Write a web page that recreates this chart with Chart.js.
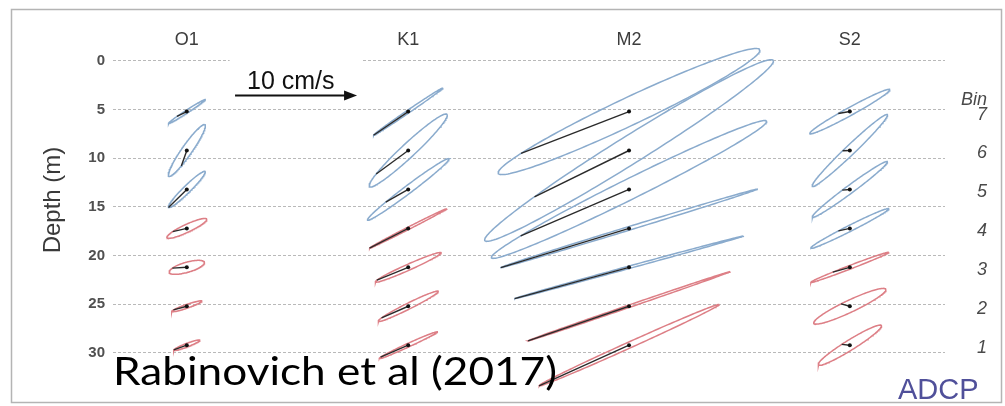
<!DOCTYPE html>
<html>
<head>
<meta charset="utf-8">
<script src="https://cdn.jsdelivr.net/npm/chart.js@4.4.1/dist/chart.umd.min.js"></script>
<style>
  html, body { margin: 0; padding: 0; background: #fff; }
  #wrap { width: 1005px; height: 406px; }
</style>
</head>
<body>
<div id="wrap"><canvas id="c" width="1005" height="406"></canvas></div>
<script>
// Tidal constituents and where each column of ellipses is centred (cm/s along x)
const constituents = ['O1', 'K1', 'M2', 'S2'];
const columnCenters = [6.15, 24.6, 43.0, 61.4];

// ADCP bins and their depths (m)
const bins = [7, 6, 5, 4, 3, 2, 1];
const binDepths = [5.2, 9.2, 13.2, 17.2, 21.2, 25.2, 29.2];
const depthTicks = [0, 5, 10, 15, 20, 25, 30];

// Ellipse parameters per bin (top to bottom):
// semi-major (cm/s), semi-minor (cm/s, negative = clockwise), inclination (deg), phase (deg)
const O1_major = [1.83, 2.63, 2.14, 1.83, 1.53, 1.33, 1.17];
const O1_minor = [0.12, 0.42, 0.30, -0.33, -0.42, -0.15, -0.15];
const O1_incl  = [33, 55, 44.5, 25, 16, 19, 21];
const O1_phase = [120, 240, 180, 130, 140, 150, 170];

const K1_major = [3.5, 4.42, 4.25, 3.62, 3.0, 2.79, 2.67];
const K1_minor = [0.12, 0.58, 0.33, -0.10, -0.25, -0.25, -0.15];
const K1_incl  = [34.3, 43, 37, 27, 24, 26.5, 24.6];
const K1_phase = [180, 138, 120, 180, 160, 150, 160];

const M2_major = [12.05, 14.17, 12.8, 11.17, 9.88, 8.9, 8.23];
const M2_minor = [1.15, 1.15, 0.85, 0.15, 0.10, -0.10, -0.25];
const M2_incl  = [25.3, 32, 26.4, 17, 15.3, 18.9, 24.3];
const M2_phase = [143, 128, 140, 180, 180, 180, 180];

const S2_major = [3.8, 4.33, 3.89, 3.64, 3.48, 3.32, 3.1];
const S2_minor = [0.33, 0.40, 0.33, 0.25, -0.15, -0.50, -0.42];
const S2_incl  = [28.8, 43.7, 36.5, 26.8, 21, 25.3, 31.9];
const S2_phase = [104, 96, 98, 105, 115, 100, 100];

// Velocity scale bar (cm/s) and its depth position
const scaleBarStart = 10.17;
const scaleBarLength = 10;
const scaleBarDepth = 3.55;

const ellipseTable = {
  O1: [O1_major, O1_minor, O1_incl, O1_phase],
  K1: [K1_major, K1_minor, K1_incl, K1_phase],
  M2: [M2_major, M2_minor, M2_incl, M2_phase],
  S2: [S2_major, S2_minor, S2_incl, S2_phase]
};

const CCW_COLOR = '#8aabcd';
const CW_COLOR = '#dd7f86';
const FONT = "'Liberation Sans', Arial, Helvetica, sans-serif";

// Frame around the figure
const framePlugin = {
  id: 'frame',
  beforeDraw(chart) {
    const ctx = chart.ctx;
    ctx.save();
    ctx.fillStyle = '#fff';
    ctx.fillRect(0, 0, chart.width, chart.height);
    ctx.strokeStyle = '#b4b4b4';
    ctx.lineWidth = 1.5;
    ctx.strokeRect(11.5, 9.5, 990, 393);
    ctx.restore();
  }
};

// Blank the surface grid line behind the scale bar label
const scaleBoxPlugin = {
  id: 'scaleBox',
  beforeDatasetsDraw(chart) {
    const x = chart.scales.x, y = chart.scales.y, ctx = chart.ctx;
    const x0 = x.getPixelForValue(scaleBarStart - 0.45);
    const x1 = x.getPixelForValue(scaleBarStart + scaleBarLength + 0.6);
    const y0 = y.getPixelForValue(0);
    ctx.save();
    ctx.fillStyle = '#fff';
    ctx.fillRect(x0, y0 - 4, x1 - x0, 8);
    ctx.restore();
  }
};

// Titles, scale bar label, bin numbers and annotations
const annotationPlugin = {
  id: 'annotations',
  afterDraw(chart) {
    const x = chart.scales.x, y = chart.scales.y, ctx = chart.ctx;
    ctx.save();

    // constituent titles
    ctx.fillStyle = '#3c3c3c';
    ctx.font = `18px ${FONT}`;
    ctx.textAlign = 'center';
    ctx.textBaseline = 'alphabetic';
    constituents.forEach((name, i) => {
      ctx.fillText(name, x.getPixelForValue(columnCenters[i]), 45);
    });

    // scale bar arrowhead and label
    const tipX = x.getPixelForValue(scaleBarStart + scaleBarLength);
    const barY = y.getPixelForValue(scaleBarDepth);
    ctx.fillStyle = '#111';
    ctx.beginPath();
    ctx.moveTo(tipX + 2, barY);
    ctx.lineTo(tipX - 11, barY - 5);
    ctx.lineTo(tipX - 11, barY + 5);
    ctx.closePath();
    ctx.fill();
    ctx.font = `25px ${FONT}`;
    ctx.textAlign = 'left';
    ctx.fillText(scaleBarLength + ' cm/s', x.getPixelForValue(scaleBarStart) + 12, barY - 6);

    // bin labels
    ctx.fillStyle = '#4a4a4a';
    ctx.font = `italic 18px ${FONT}`;
    ctx.textAlign = 'right';
    ctx.textBaseline = 'middle';
    ctx.fillText('Bin', 987, 100);
    bins.forEach((b, i) => {
      ctx.fillText(String(b), 987, y.getPixelForValue(binDepths[i]) + 3);
    });

    // depth axis title
    ctx.save();
    ctx.translate(53, 200);
    ctx.rotate(-Math.PI / 2);
    ctx.textAlign = 'center';
    ctx.textBaseline = 'middle';
    ctx.fillStyle = '#3a3a3a';
    ctx.font = `24px ${FONT}`;
    ctx.fillText('Depth (m)', 0, 0);
    ctx.restore();

    // instrument label
    ctx.fillStyle = '#50509a';
    ctx.font = `29px ${FONT}`;
    ctx.textAlign = 'left';
    ctx.textBaseline = 'alphabetic';
    ctx.fillText('ADCP', 898, 399);

    // citation, stretched to its box width
    const cite = 'Rabinovich et al (2017)';
    ctx.fillStyle = '#000';
    ctx.font = "39px Lato, 'Open Sans', sans-serif";
    const w = ctx.measureText(cite).width;
    ctx.save();
    ctx.translate(113, 385);
    ctx.scale(444 / w, 1);
    ctx.fillText(cite, 0, 0);
    ctx.restore();

    ctx.restore();
  }
};

const chart = new Chart(document.getElementById('c'), {
  type: 'scatter',
  data: { datasets: [] },
  options: {
    responsive: false,
    animation: false,
    events: [],
    layout: { padding: { left: 0, right: 60, top: 22, bottom: 4 } },
    plugins: { legend: { display: false }, tooltip: { enabled: false } },
    scales: {
      x: { type: 'linear', display: false, min: 0, max: 69.33 },
      y: {
        type: 'linear',
        reverse: true,
        min: -4,
        max: 33.7,
        afterBuildTicks(scale) { scale.ticks = depthTicks.map(v => ({ value: v })); },
        afterFit(scale) { scale.width = 113; },
        grid: { color: '#b9b9b9', lineWidth: 1, drawTicks: false },
        border: { display: false, dash: [3, 2] },
        ticks: {
          padding: 8,
          color: '#505050',
          font: { family: FONT, size: 15, weight: 'bold' }
        }
      }
    }
  },
  plugins: [framePlugin, scaleBoxPlugin, annotationPlugin]
});

// Build the ellipses in velocity space so that 1 cm/s is the same length on both axes
function buildDatasets() {
  const xs = chart.scales.x, ys = chart.scales.y;
  const pxPerCms = Math.abs(xs.getPixelForValue(1) - xs.getPixelForValue(0));
  const pxPerM = Math.abs(ys.getPixelForValue(1) - ys.getPixelForValue(0));
  const k = pxPerCms / pxPerM; // metres of depth per cm/s

  const datasets = [];
  const centres = [];
  const N = 180;

  constituents.forEach((name, ci) => {
    const [major, minor, incl, phase] = ellipseTable[name];
    const xc = columnCenters[ci];
    binDepths.forEach((d, i) => {
      const a = major[i];
      const b = Math.abs(minor[i]);
      const th = incl[i] * Math.PI / 180;
      const at = (t) => {
        const u = a * Math.cos(t), w = b * Math.sin(t);
        return {
          x: xc + u * Math.cos(th) - w * Math.sin(th),
          y: d - (u * Math.sin(th) + w * Math.cos(th)) * k
        };
      };
      const outline = [];
      for (let j = 0; j <= N; j++) outline.push(at(2 * Math.PI * j / N));
      datasets.push({
        data: outline,
        showLine: true,
        borderColor: minor[i] < 0 ? CW_COLOR : CCW_COLOR,
        borderWidth: 1.5,
        pointRadius: 0,
        tension: 0,
        order: 3
      });
      datasets.push({
        data: [{ x: xc, y: d }, at(phase[i] * Math.PI / 180)],
        showLine: true,
        borderColor: '#2b2b2b',
        borderWidth: 1.4,
        pointRadius: 0,
        order: 2
      });
      centres.push({ x: xc, y: d });
    });
  });

  datasets.push({
    data: centres,
    pointRadius: 2,
    pointBackgroundColor: '#111',
    pointBorderWidth: 0,
    order: 1
  });

  // scale bar shaft
  datasets.push({
    data: [
      { x: scaleBarStart, y: scaleBarDepth },
      { x: scaleBarStart + scaleBarLength - 0.8, y: scaleBarDepth }
    ],
    showLine: true,
    borderColor: '#111',
    borderWidth: 2,
    pointRadius: 0,
    clip: false,
    order: 0
  });

  chart.data.datasets = datasets;
  chart.update('none');
}

buildDatasets();
</script>
</body>
</html>
